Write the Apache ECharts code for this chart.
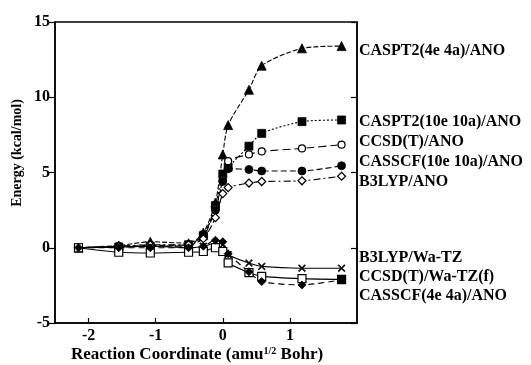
<!DOCTYPE html>
<html>
<head>
<meta charset="utf-8">
<style>
  html, body { margin: 0; padding: 0; background: #fff; }
  #chart { width: 531px; height: 365px; }
</style>
<script src="https://cdn.jsdelivr.net/npm/echarts@6/dist/echarts.min.js"></script>
</head>
<body>
<div id="chart"></div>
<script>
// Reaction coordinate sample points (amu^1/2 Bohr)
const xs = [-2.15, -1.55, -1.08, -0.51, -0.29, -0.11, 0.0, 0.08, 0.39, 0.58, 1.18, 1.77];

// Relative energies (kcal/mol) for each method
const caspt2_4e4a_ano   = [0, 0.15, 0.4, 0.3, 1.0, 3.0, 6.2, 8.15, 10.5, 12.1, 13.25, 13.4];
const caspt2_10e10a_ano = [0, 0.05, 0.1, 0.2, 0.8, 2.8, 4.9, 5.35, 6.75, 7.6, 8.38, 8.49];
const ccsdt_ano         = [0, 0.05, 0.1, 0.1, 0.7, 2.6, 4.5, 5.75, 6.2, 6.4, 6.6, 6.85];
const casscf_10e10a_ano = [0, 0.1, 0.15, 0.2, 0.9, 2.5, 4.4, 5.25, 5.2, 5.1, 5.1, 5.45];
const b3lyp_ano         = [0, 0.1, 0.2, 0.2, 0.6, 2.0, 3.6, 4.0, 4.3, 4.4, 4.45, 4.75];
const b3lyp_watz        = [0, 0.05, 0.1, 0.0, 0.1, 0.3, 0.2, -0.45, -1.02, -1.24, -1.36, -1.36];
const ccsdt_watzf       = [0, -0.3, -0.35, -0.3, -0.25, 0.0, -0.25, -1.0, -1.65, -1.9, -2.05, -2.1];
const casscf_4e4a_ano   = [0, 0.0, 0.0, 0.0, 0.1, 0.5, 0.4, -0.4, -1.6, -2.25, -2.47, -2.13];

// Axis ticks
const xTicks = [-2, -1, 0, 1];
const yTicks = [-5, 0, 5, 10, 15];

// Method names printed beside the curves
const methodLabels = [
  'CASPT2(4e 4a)/ANO', 'CASPT2(10e 10a)/ANO', 'CCSD(T)/ANO', 'CASSCF(10e 10a)/ANO',
  'B3LYP/ANO', 'B3LYP/Wa-TZ', 'CCSD(T)/Wa-TZ(f)', 'CASSCF(4e 4a)/ANO'
];

const SERIF = "'Liberation Serif', 'DejaVu Serif', serif";
const CROSS = 'path://M0,1L1,0L5,4L9,0L10,1L6,5L10,9L9,10L5,6L1,10L0,9L4,5Z';

function pts(vals) { return xs.map((x, i) => [x, vals[i]]); }

function curve(name, vals, symbol, size, filled, dash) {
  return {
    name: name,
    type: 'line',
    data: pts(vals),
    smooth: 0.25,
    symbol: symbol,
    symbolSize: size,
    showAllSymbol: true,
    lineStyle: { color: '#000', width: 1.1, type: dash },
    itemStyle: filled
      ? { color: '#000', borderColor: '#000', borderWidth: 0.8 }
      : { color: '#fff', borderColor: '#000', borderWidth: 1.2 },
    emphasis: { disabled: true },
    animation: false
  };
}

// Right-hand labels: vertical pixel position of each label line
const labelY = [51, 122, 142, 162, 182, 258, 277, 296];

const chart = echarts.init(document.getElementById('chart'), null, { renderer: 'canvas' });

const lastIdx = xs.length - 1;
const casscf4eSeries = curve(methodLabels[7], casscf_4e4a_ano, 'diamond', 8, true, [6, 4]);
casscf4eSeries.data = pts(casscf_4e4a_ano).map((p, i) =>
  i === lastIdx ? { value: p, symbol: 'rect', symbolSize: 8 } : p);

const tickFont = { color: '#000', fontFamily: SERIF, fontWeight: 'bold', fontSize: 16 };

chart.setOption({
  animation: false,
  grid: { left: 55, right: 174, top: 22, bottom: 42, show: true, borderColor: '#000', borderWidth: 1.5, backgroundColor: 'transparent' },
  xAxis: {
    type: 'value', min: -2.5, max: 2.0,
    axisLine: { show: true, onZero: false, lineStyle: { color: '#000', width: 1.5 } },
    axisTick: { show: true, inside: true, length: 5, customValues: xTicks, lineStyle: { color: '#000', width: 1.2 } },
    axisLabel: Object.assign({ show: true, customValues: xTicks, margin: 5 }, tickFont),
    splitLine: { show: false }
  },
  yAxis: [{
    type: 'value', min: -5, max: 15, interval: 5,
    axisLine: { show: true, onZero: false, lineStyle: { color: '#000', width: 1.5 } },
    axisTick: { show: true, inside: false, length: 6, lineStyle: { color: '#000', width: 1.2 } },
    axisLabel: Object.assign({ margin: 5 }, tickFont),
    splitLine: { show: false }
  }, {
    type: 'value', min: -5, max: 15, interval: 5, position: 'right',
    axisLine: { show: true, onZero: false, lineStyle: { color: '#000', width: 1.5 } },
    axisTick: { show: true, inside: true, length: 6, lineStyle: { color: '#000', width: 1.2 } },
    axisLabel: { show: false },
    splitLine: { show: false }
  }],
  series: [
    curve(methodLabels[0], caspt2_4e4a_ano, 'triangle', 9, true, [5, 2]),
    curve(methodLabels[1], caspt2_10e10a_ano, 'rect', 8, true, [2, 2]),
    curve(methodLabels[2], ccsdt_ano, 'circle', 7, false, [8, 4]),
    curve(methodLabels[3], casscf_10e10a_ano, 'circle', 8, true, [6, 3]),
    curve(methodLabels[4], b3lyp_ano, 'diamond', 8, false, [7, 3, 2, 3]),
    curve(methodLabels[5], b3lyp_watz, CROSS, 7, true, 'solid'),
    curve(methodLabels[6], ccsdt_watzf, 'rect', 8, false, 'solid'),
    casscf4eSeries
  ],
  graphic: [
    ...methodLabels.map((t, i) => ({
      type: 'text', x: 359, y: labelY[i],
      style: { text: t, font: "bold 16px " + SERIF, fill: '#000', verticalAlign: 'middle' }
    })),
    {
      type: 'text', x: 17, y: 153, rotation: Math.PI / 2,
      style: { text: 'Energy (kcal/mol)', font: "bold 14px " + SERIF, fill: '#000', align: 'center', verticalAlign: 'middle' }
    },
    {
      type: 'text', x: 197, y: 355,
      style: {
        text: '{b|Reaction Coordinate (amu}{s|1/2}{b| Bohr)}',
        align: 'center', verticalAlign: 'middle',
        rich: {
          b: { font: "bold 17px " + SERIF, fill: '#000', verticalAlign: 'bottom' },
          s: { font: "bold 10px " + SERIF, fill: '#000', verticalAlign: 'top', padding: [0, 0, 7, 0] }
        }
      }
    }
  ]
});
</script>
</body>
</html>
